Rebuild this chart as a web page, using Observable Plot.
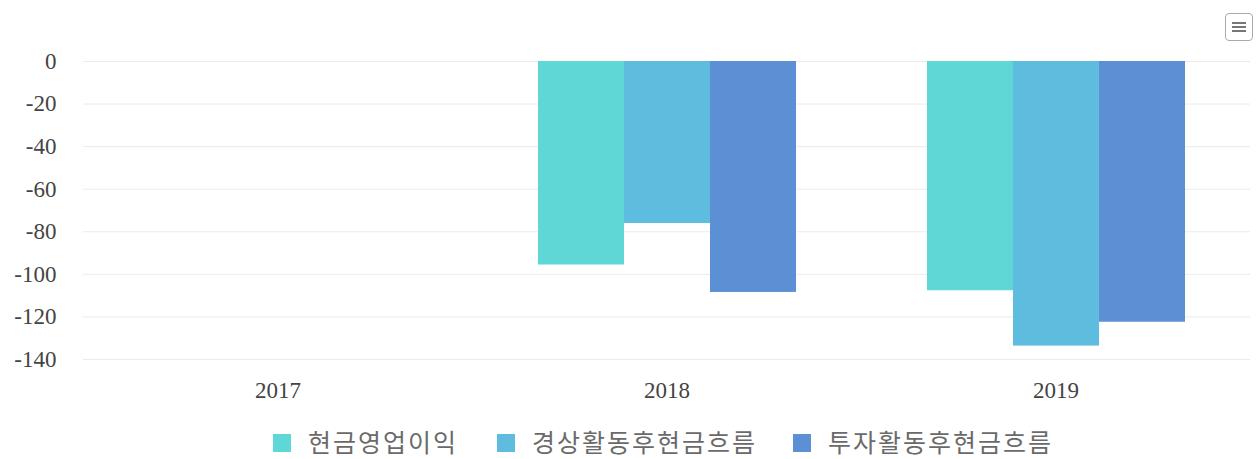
<!DOCTYPE html>
<html><head><meta charset="utf-8">
<script src="https://cdn.jsdelivr.net/npm/d3@7"></script>
<script src="https://cdn.jsdelivr.net/npm/@observablehq/plot@0.6"></script>
<style>
body{margin:0;background:#fff;width:1256px;height:459px;overflow:hidden;position:relative;}
#legend{position:absolute;left:0;top:424px;width:1256px;height:34px;font-family:"Noto Sans CJK KR","Noto Sans",sans-serif;font-size:25px;letter-spacing:2px;color:#6a6a6a;white-space:nowrap;}
#legend .item{position:absolute;top:0;display:flex;align-items:center;height:34px;}
#legend .sw{width:18px;height:18px;margin-right:17px;margin-top:3px;}
#legend span{line-height:34px;}
#menu{position:absolute;left:1225px;top:13px;width:28px;height:28px;border:1px solid #aaa;border-radius:4px;box-sizing:border-box;}
#menu span{position:absolute;left:6px;width:14px;height:2px;background:#777;}
</style></head>
<body>
<div id="chart"></div>
<div id="legend"></div>
<div id="menu"><span style="top:8px"></span><span style="top:12px"></span><span style="top:16px"></span></div>
<script>
const years = ["2017", "2018", "2019"];
const seriesNames = ["현금영업이익", "경상활동후현금흐름", "투자활동후현금흐름"];
const cashOperatingProfit = [null, -95.6, -107.7];
const afterOrdinaryCashFlow = [null, -76.1, -133.7];
const afterInvestingCashFlow = [null, -108.5, -122.5];
const colors = ["#5ED7D6", "#5EBDDF", "#5B91D4"];
const yTicks = [0, -20, -40, -60, -80, -100, -120, -140];

const seriesValues = [cashOperatingProfit, afterOrdinaryCashFlow, afterInvestingCashFlow];
const data = [];
years.forEach((yr, i) => seriesNames.forEach((s, j) => {
  data.push({year: yr, series: s, value: seriesValues[j][i]});
}));

const chart = Plot.plot({
  width: 1256, height: 415,
  marginLeft: 82, marginRight: 6, marginTop: 61, marginBottom: 56,
  style: {fontFamily: "'Liberation Serif', serif", fontSize: "23px", color: "#444", background: "transparent"},
  fx: {domain: years, padding: 0, label: null, axis: "bottom", tickSize: 0, tickPadding: 22},
  x: {domain: seriesNames, axis: null, paddingInner: 0, paddingOuter: 0.74},
  y: {domain: [-140, 0], ticks: yTicks, tickSize: 0, tickPadding: 27, label: null, tickFormat: d => String(d)},
  color: {domain: seriesNames, range: colors},
  marks: [
    Plot.ruleY(yTicks, {stroke: "#ebebeb", strokeWidth: 1}),
    Plot.barY(data, {fx: "year", x: "series", y: "value", fill: "series"})
  ]
});
document.getElementById("chart").appendChild(chart);

const legendLeft = [273, 497, 793];
const legend = document.getElementById("legend");
seriesNames.forEach((s, i) => {
  const it = document.createElement("div"); it.className = "item"; it.style.left = legendLeft[i] + "px";
  const sw = document.createElement("div"); sw.className = "sw"; sw.style.background = colors[i];
  const t = document.createElement("span"); t.textContent = s;
  it.appendChild(sw); it.appendChild(t); legend.appendChild(it);
});
</script>
</body></html>
